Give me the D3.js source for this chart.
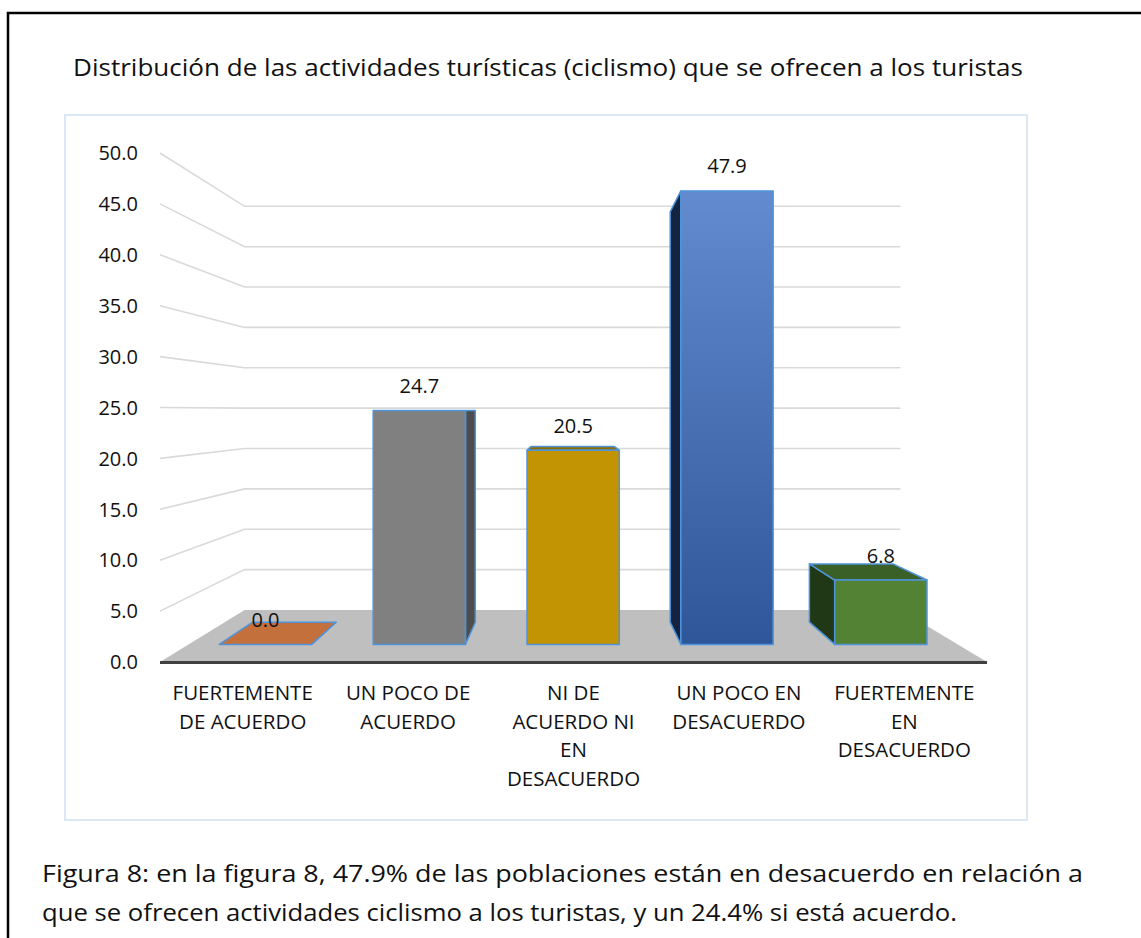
<!DOCTYPE html>
<html><head><meta charset="utf-8">
<script src="https://cdn.jsdelivr.net/npm/d3@7"></script>
<style>
body{margin:0;background:#fff;}
svg{display:block;}
text{font-family:"Open Sans",sans-serif;fill:#111;}
</style>
</head><body>
<svg id="chart" width="1141" height="938"></svg>
<script>
// ---------- data ----------
const chartTitle = "Distribución de las actividades turísticas (ciclismo) que se ofrecen a los turistas";
const categories = ["FUERTEMENTE DE ACUERDO", "UN POCO DE ACUERDO", "NI DE ACUERDO NI EN DESACUERDO", "UN POCO EN DESACUERDO", "FUERTEMENTE EN DESACUERDO"];
const categoryLines = [["FUERTEMENTE", "DE ACUERDO"], ["UN POCO DE", "ACUERDO"], ["NI DE", "ACUERDO NI", "EN", "DESACUERDO"], ["UN POCO EN", "DESACUERDO"], ["FUERTEMENTE", "EN", "DESACUERDO"]];
const values = [0.0, 24.7, 20.5, 47.9, 6.8];
const yTicks = [0, 5, 10, 15, 20, 25, 30, 35, 40, 45, 50];
const captionLines = [
  "Figura 8: en la figura 8, 47.9% de las poblaciones están en desacuerdo en relación a",
  "que se ofrecen actividades ciclismo a los turistas, y un 24.4% si está acuerdo."
];

// ---------- styles ----------
const frontColors = ["#C4703D", "#808080", "#C29302", "url(#blueGrad)", "#548235"];
const sideColors  = ["#A85A2C", "#4D4D4D", "#7F6100", "#14233F", "#203815"];
const topColors   = ["#C4703D", "#5E5E5E", "#8C6C00", "#3F66A8", "#3A5F27"];
const outline = "#4F94DA";

const svg = d3.select("#chart");
const defs = svg.append("defs");
const g1 = defs.append("linearGradient").attr("id", "blueGrad").attr("x1", 0).attr("y1", 0).attr("x2", 0).attr("y2", 1);
g1.append("stop").attr("offset", "0%").attr("stop-color", "#628BD0");
g1.append("stop").attr("offset", "100%").attr("stop-color", "#2F5698");

// outer frame (page border)
svg.append("path").attr("d", "M8,938 L8,13 L1141,13").attr("fill", "none").attr("stroke", "#000").attr("stroke-width", 2.5);

// chart box
svg.append("rect").attr("x", 65).attr("y", 115).attr("width", 962).attr("height", 705)
  .attr("fill", "#fff").attr("stroke", "#DAE7F5").attr("stroke-width", 2);

// title
svg.append("text").attr("x", 73).attr("y", 76).attr("font-size", 23)
  .attr("textLength", 950).attr("lengthAdjust", "spacingAndGlyphs").text(chartTitle);

// ---------- scales (front plane) ----------
const x = d3.scaleBand().domain(categories).range([160, 987]).paddingInner(0.4).paddingOuter(0.2);
const y = d3.scaleLinear().domain([0, 50]).range([662, 153]);

// perspective projection: front plane z=0, back wall z=1
const vx = 568.7, vy = 410.6, k = 0.261;
function P(xf, yf, z) { const s = 1 / (1 + k * z); return [vx + s * (xf - vx), vy + s * (yf - vy)]; }
const zFront = 0.288, zBack = 0.721;
const poly = pts => "M" + pts.map(p => p.join(",")).join("L") + "Z";

const [x0, x1] = x.range();

// gridlines: left wall + back wall
const grid = svg.append("g").attr("fill", "none").attr("stroke", "#D9D9D9").attr("stroke-width", 1.6);
yTicks.filter(t => t > 0).forEach(t => {
  const a = P(x0, y(t), 0), b = P(x0, y(t), 1), c = P(x1, y(t), 1);
  grid.append("path").attr("d", `M${a}L${b}L${c}`);
});

// floor
svg.append("path").attr("d", poly([P(x0, y(0), 0), P(x0, y(0), 1), P(x1, y(0), 1), P(x1, y(0), 0)]))
  .attr("fill", "#BFBFBF");
svg.append("line").attr("x1", x0).attr("x2", x1).attr("y1", y(0) + 0.5).attr("y2", y(0) + 0.5)
  .attr("stroke", "#404040").attr("stroke-width", 3.2);

// y axis labels
svg.append("g").selectAll("text").data(yTicks).join("text")
  .attr("x", 138).attr("y", d => y(d)).attr("dy", "0.36em").attr("text-anchor", "end")
  .attr("font-size", 20).text(d => d.toFixed(1));

// bars
const bars = svg.append("g");
values.forEach((v, i) => {
  const c = categories[i];
  const L = x(c), R = x(c) + x.bandwidth(), B = y(0), T = y(v);
  const g = bars.append("g").attr("stroke", outline).attr("stroke-width", 1.5).attr("stroke-linejoin", "round");
  // side faces
  if (R < vx) g.append("path").attr("d", poly([P(R, B, zFront), P(R, T, zFront), P(R, T, zBack), P(R, B, zBack)])).attr("fill", sideColors[i]);
  if (L > vx) g.append("path").attr("d", poly([P(L, B, zFront), P(L, T, zFront), P(L, T, zBack), P(L, B, zBack)])).attr("fill", sideColors[i]);
  // top face
  if (T > vy) g.append("path").attr("d", poly([P(L, T, zFront), P(R, T, zFront), P(R, T, zBack), P(L, T, zBack)])).attr("fill", topColors[i]);
  // front face
  if (v > 0) {
    const a = P(L, T, zFront), b = P(R, B, zFront);
    g.append("rect").attr("x", a[0]).attr("y", a[1]).attr("width", b[0] - a[0]).attr("height", b[1] - a[1]).attr("fill", frontColors[i]);
  }
  // data label (3D point just above the bar top at its front depth)
  const lp = P(x(c) + x.bandwidth() / 2, y(v + 2.6), zFront);
  svg.append("text").attr("x", lp[0]).attr("y", lp[1]).attr("dy", "0.36em").attr("text-anchor", "middle")
    .attr("font-size", 20).text(v.toFixed(1));
});

// category labels
categoryLines.forEach((lines, i) => {
  const cxp = x(categories[i]) + x.bandwidth() / 2;
  const t = svg.append("text").attr("text-anchor", "middle").attr("font-size", 20.5);
  lines.forEach((ln, j) => t.append("tspan").attr("x", cxp).attr("y", 700 + j * 28.7).text(ln));
});

// caption
svg.append("text").attr("x", 42).attr("y", 882).attr("font-size", 23)
  .attr("textLength", 1041).attr("lengthAdjust", "spacingAndGlyphs").text(captionLines[0]);
svg.append("text").attr("x", 42).attr("y", 921).attr("font-size", 23)
  .attr("textLength", 915).attr("lengthAdjust", "spacingAndGlyphs").text(captionLines[1]);
</script>
</body></html>
